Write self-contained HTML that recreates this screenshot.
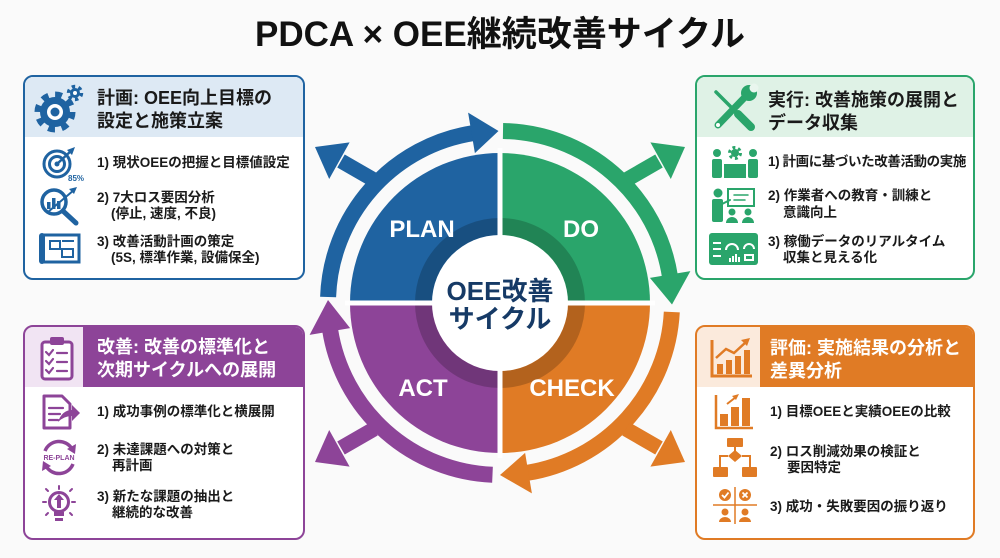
<!DOCTYPE html>
<html><head><meta charset="utf-8">
<style>
*{margin:0;padding:0}
body{width:1000px;height:558px;background:#fafafa;position:relative;overflow:hidden;font-family:"Liberation Sans","Noto Sans CJK JP",sans-serif;}
.box{position:absolute;box-sizing:border-box;border:2.5px solid;border-radius:10px;background:#fff;overflow:hidden}
.hd{position:absolute;left:0;right:0;top:0;height:60px}
.t{position:absolute;font-weight:bold;white-space:nowrap;color:#1a1a1a}
.h{font-size:18px;line-height:23px}
.i{font-size:13.5px;line-height:16px}
.ind{display:block;padding-left:14px}
</style></head><body>

<div class="t" style="left:0;width:1000px;top:15px;text-align:center;font-size:35px;line-height:40px;color:#111">PDCA × OEE継続改善サイクル</div>

<!-- boxes -->
<div class="box" style="left:23px;top:75px;width:282px;height:205px;border-color:#1f63a1">
  <div class="hd" style="background:#dde9f4"></div>
</div>
<div class="box" style="left:695px;top:75px;width:280px;height:205px;border-color:#2aa56b">
  <div class="hd" style="background:#dff2e6"></div>
</div>
<div class="box" style="left:23px;top:325px;width:282px;height:215px;border-color:#8d4498">
  <div class="hd" style="background:#8d4498;height:60px"></div>
  <div class="hd" style="background:#f1e4f3;right:auto;width:58px;height:60px"></div>
</div>
<div class="box" style="left:695px;top:325px;width:280px;height:215px;border-color:#e07b25">
  <div class="hd" style="background:#e07b25;height:60px"></div>
  <div class="hd" style="background:#fbeadc;right:auto;width:63px;height:60px"></div>
</div>

<!-- header texts -->
<div class="t h" style="left:97px;top:87px">計画: OEE向上目標の<br>設定と施策立案</div>
<div class="t h" style="left:768px;top:89px">実行: 改善施策の展開と<br>データ収集</div>
<div class="t h" style="left:97px;top:336px;color:#fff">改善: 改善の標準化と<br>次期サイクルへの展開</div>
<div class="t h" style="left:770px;top:337px;color:#fff">評価: 実施結果の分析と<br>差異分析</div>

<!-- items -->
<div class="t i" style="left:97px;top:155px">1) 現状OEEの把握と目標値設定</div>
<div class="t i" style="left:97px;top:190px">2) 7大ロス要因分析<span class="ind">(停止, 速度, 不良)</span></div>
<div class="t i" style="left:97px;top:234px">3) 改善活動計画の策定<span class="ind">(5S, 標準作業, 設備保全)</span></div>

<div class="t i" style="left:768px;top:154px;letter-spacing:-0.4px">1) 計画に基づいた改善活動の実施</div>
<div class="t i" style="left:768px;top:187px;line-height:17px">2) 作業者への教育・訓練と<span class="ind" style="padding-left:15px">意識向上</span></div>
<div class="t i" style="left:768px;top:234px">3) 稼働データのリアルタイム<span class="ind" style="padding-left:15px">収集と見える化</span></div>

<div class="t i" style="left:97px;top:404px">1) 成功事例の標準化と横展開</div>
<div class="t i" style="left:97px;top:442px">2) 未達課題への対策と<span class="ind" style="padding-left:15px">再計画</span></div>
<div class="t i" style="left:97px;top:489px">3) 新たな課題の抽出と<span class="ind" style="padding-left:15px">継続的な改善</span></div>

<div class="t i" style="left:770px;top:404px">1) 目標OEEと実績OEEの比較</div>
<div class="t i" style="left:770px;top:444px">2) ロス削減効果の検証と<span class="ind" style="padding-left:17px">要因特定</span></div>
<div class="t i" style="left:770px;top:499px">3) 成功・失敗要因の振り返り</div>

<svg width="1000" height="558" style="position:absolute;left:0;top:0" xmlns="http://www.w3.org/2000/svg">
<!-- pie -->
<path d="M500,303 L350,303 A150,150 0 0 1 500,153 Z" fill="#1f63a1"/>
<path d="M500,303 L500,153 A150,150 0 0 1 650,303 Z" fill="#2aa56b"/>
<path d="M500,303 L650,303 A150,150 0 0 1 500,453 Z" fill="#e07b25"/>
<path d="M500,303 L500,453 A150,150 0 0 1 350,303 Z" fill="#8d4498"/>
<circle cx="500" cy="303" r="76.5" fill="none" stroke="rgba(0,0,0,0.2)" stroke-width="17"/>
<line x1="500" y1="148" x2="500" y2="458" stroke="#fff" stroke-width="5"/>
<line x1="345" y1="303" x2="655" y2="303" stroke="#fff" stroke-width="5"/>
<circle cx="500" cy="303" r="68" fill="#fff"/>

<!-- ring arrows -->
<g fill="none" stroke-width="16">
<path d="M328.1,297 A172,172 0 0 1 473.1,133.1" stroke="#1f63a1"/>
<path d="M503,131 A172,172 0 0 1 669.9,276.1" stroke="#2aa56b"/>
<path d="M671.8,312 A172,172 0 0 1 526.9,472.9" stroke="#e07b25"/>
<path d="M492.5,474.8 A172,172 0 0 1 330.1,329.9" stroke="#8d4498"/>
</g>
<polygon points="474.9,153.1 468.1,112.6 498.5,131" fill="#1f63a1"/>
<polygon points="649.9,277.9 690.4,271.1 672,304.5" fill="#2aa56b"/>
<polygon points="525.1,452.9 531.9,493.4 500,475" fill="#e07b25"/>
<polygon points="350.1,328.1 309.6,334.9 328,300" fill="#8d4498"/>

<!-- diagonal arrows -->
<line x1="374" y1="180" x2="341" y2="161" stroke="#1f63a1" stroke-width="15"/>
<polygon points="315,147 349.6,142.4 329.2,179" fill="#1f63a1"/>
<line x1="626" y1="180" x2="659" y2="161" stroke="#2aa56b" stroke-width="15"/>
<polygon points="685,147 650.4,142.4 670.8,179" fill="#2aa56b"/>
<line x1="374" y1="429" x2="341" y2="448" stroke="#8d4498" stroke-width="15"/>
<polygon points="315,462 349.6,466.6 329.2,430" fill="#8d4498"/>
<line x1="626" y1="429" x2="659" y2="448" stroke="#e07b25" stroke-width="15"/>
<polygon points="685,462 650.4,466.6 670.8,430" fill="#e07b25"/>

<!-- labels -->
<g font-family="Liberation Sans, sans-serif" font-weight="bold" font-size="24" fill="#fff" text-anchor="middle">
<text x="422" y="237">PLAN</text>
<text x="581" y="237">DO</text>
<text x="423" y="396">ACT</text>
<text x="572" y="396">CHECK</text>
</g>
<g font-family="Liberation Sans, Noto Sans CJK JP, sans-serif" font-weight="bold" font-size="26" fill="#163a66" text-anchor="middle">
<text x="500" y="300">OEE改善</text>
<text x="500" y="328">サイクル</text>
</g>

<!-- TL icons (blue) -->
<g fill="#1f63a1" stroke="#1f63a1">
<circle cx="55" cy="112" r="15" stroke="none"/>
<circle cx="55" cy="112" r="17" fill="none" stroke-width="7" stroke-dasharray="6.7 6.65"/>
<circle cx="55" cy="112" r="8" fill="#fff" stroke="none"/>
<circle cx="55" cy="112" r="4.5" stroke="none"/>
<circle cx="75" cy="93" r="5" stroke="none"/>
<circle cx="75" cy="93" r="6.5" fill="none" stroke-width="3.5" stroke-dasharray="3.4 3.4"/>
<circle cx="75" cy="93" r="2" fill="#fff" stroke="none"/>
<!-- target -->
<circle cx="57" cy="164" r="13" fill="none" stroke-width="3"/>
<circle cx="57" cy="164" r="7.5" fill="none" stroke-width="3"/>
<circle cx="57" cy="164" r="2.5" stroke="none"/>
<line x1="57" y1="164" x2="72" y2="150" stroke-width="2.5"/>
<polygon points="75,147 67,150 72,155" stroke="none"/>
<text x="68" y="181" font-size="8" font-weight="bold" stroke="none" font-family="Liberation Sans, sans-serif">85%</text>
<!-- magnifier -->
<circle cx="54" cy="202" r="12" fill="none" stroke-width="3.5"/>
<rect x="47" y="202" width="3.5" height="7" stroke="none"/>
<rect x="52" y="198" width="3.5" height="11" stroke="none"/>
<rect x="57" y="201" width="3.5" height="8" stroke="none"/>
<line x1="63" y1="211" x2="76" y2="223" stroke-width="5" stroke-linecap="round"/>
<line x1="48" y1="212" x2="74" y2="190" stroke-width="2"/>
<polygon points="77,187 69,189 74,194" stroke="none"/>
<!-- blueprint -->
<rect x="42" y="235" width="37" height="27" fill="none" stroke-width="3"/>
<rect x="39" y="233" width="6" height="31" rx="3" stroke="none"/>
<rect x="50" y="241" width="10" height="8" fill="none" stroke-width="2"/>
<rect x="62" y="249" width="11" height="8" fill="none" stroke-width="2"/>
<line x1="62" y1="241" x2="74" y2="241" stroke-width="2"/>
</g>

<!-- TR icons (green) -->
<g fill="#2aa56b" stroke="#2aa56b" stroke-linecap="round">
<line x1="716" y1="92" x2="736" y2="112" stroke-width="3.5"/>
<line x1="738" y1="114" x2="751" y2="127" stroke-width="8"/>
<line x1="746" y1="96" x2="718" y2="125" stroke-width="7"/>
<circle cx="749" cy="93" r="8" stroke="none"/>
<circle cx="754" cy="88" r="4.5" fill="#e9f6ee" stroke="none"/>
<circle cx="718" cy="125" r="2" fill="#fff" stroke="none"/>
<!-- people table -->
<circle cx="717" cy="153" r="4" stroke="none"/>
<rect x="712" y="159" width="10" height="19" rx="2" stroke="none"/>
<circle cx="753" cy="153" r="4" stroke="none"/>
<rect x="748" y="159" width="10" height="19" rx="2" stroke="none"/>
<rect x="724" y="164" width="22" height="14" stroke="none"/>
<circle cx="735" cy="153" r="4" stroke="none"/>
<circle cx="735" cy="153" r="5.5" fill="none" stroke-width="3" stroke-dasharray="2.9 2.9" stroke-linecap="butt"/>
<!-- presenter -->
<circle cx="718" cy="193" r="4.5" stroke="none"/>
<rect x="712" y="199" width="11" height="23" rx="2" stroke="none"/>
<rect x="728" y="189" width="26" height="17" fill="#fff" stroke-width="2" stroke-linecap="butt"/>
<line x1="734" y1="195" x2="748" y2="195" stroke-width="1.5"/>
<line x1="734" y1="200" x2="745" y2="200" stroke-width="1.5"/>
<line x1="722" y1="204" x2="730" y2="200" stroke-width="2"/>
<circle cx="732" cy="212" r="3.5" stroke="none"/>
<path d="M726,223 a6,6 0 0 1 12,0 Z" stroke="none"/>
<circle cx="748" cy="212" r="3.5" stroke="none"/>
<path d="M742,223 a6,6 0 0 1 12,0 Z" stroke="none"/>
<!-- dashboard -->
<rect x="709" y="233" width="49" height="32" rx="3" stroke="none"/>
<g stroke="#fff" fill="none" stroke-width="2" stroke-linecap="butt">
<path d="M726,250 a6,6 0 0 1 12,0"/>
<path d="M744,249 a5,5 0 0 1 10,0"/>
<line x1="713" y1="243" x2="721" y2="243"/>
<line x1="713" y1="249" x2="721" y2="249"/>
<line x1="713" y1="256" x2="721" y2="256"/>
<line x1="730" y1="262" x2="730" y2="258"/>
<line x1="733" y1="262" x2="733" y2="256"/>
<line x1="736" y1="262" x2="736" y2="254"/>
<line x1="739" y1="262" x2="739" y2="257"/>
<rect x="745" y="255" width="8" height="5"/>
</g>
</g>

<!-- BL icons (purple) -->
<g fill="#8d4498" stroke="#8d4498" stroke-linecap="round">
<rect x="42" y="342" width="30" height="37" rx="3" fill="#fff" stroke-width="3"/>
<rect x="50" y="337" width="14" height="8" rx="2" stroke="none"/>
<g fill="none" stroke-width="2.2">
<polyline points="46,352 49,355 53,350"/><line x1="57" y1="353" x2="67" y2="353"/>
<polyline points="46,361 49,364 53,359"/><line x1="57" y1="362" x2="67" y2="362"/>
<polyline points="46,370 49,373 53,368"/><line x1="57" y1="371" x2="67" y2="371"/>
</g>
<!-- doc -->
<path d="M44,396 L62,396 L70,404 L70,428 L44,428 Z" fill="#fff" stroke-width="3" stroke-linejoin="round"/>
<g stroke-width="2.2"><line x1="49" y1="408" x2="63" y2="408"/><line x1="49" y1="414" x2="60" y2="414"/><line x1="49" y1="420" x2="58" y2="420"/></g>
<path d="M58,422 Q62,410 72,410 L72,405 L80,413 L72,421 L72,416 Q64,416 58,422 Z" stroke="none"/>
<!-- replan -->
<path d="M45,451 A15,15 0 0 1 72,449" fill="none" stroke-width="3.5" stroke-linecap="butt"/>
<polygon points="76,444 75,454 67,449" stroke="none"/>
<path d="M73,464 A15,15 0 0 1 46,466" fill="none" stroke-width="3.5" stroke-linecap="butt"/>
<polygon points="42,471 43,461 51,466" stroke="none"/>
<text x="59" y="460" font-size="7" font-weight="bold" text-anchor="middle" stroke="none" font-family="Liberation Sans, sans-serif">RE-PLAN</text>
<!-- bulb -->
<circle cx="59" cy="502" r="9.5" fill="none" stroke-width="3"/>
<rect x="54" y="512" width="10" height="4" stroke="none"/>
<rect x="55" y="518" width="8" height="3" stroke="none"/>
<polygon points="59,494 64,500 61,500 61,508 57,508 57,500 54,500" stroke="none"/>
<g stroke-width="2"><line x1="59" y1="486" x2="59" y2="489"/><line x1="46" y1="502" x2="43" y2="502"/><line x1="72" y1="502" x2="75" y2="502"/><line x1="48" y1="491" x2="46" y2="489"/><line x1="70" y1="491" x2="72" y2="489"/><line x1="48" y1="513" x2="46" y2="515"/><line x1="70" y1="513" x2="72" y2="515"/></g>
</g>

<!-- BR icons (orange) -->
<g fill="#e07b25" stroke="#e07b25">
<polyline points="712,340 712,376 752,376" fill="none" stroke-width="3"/>
<rect x="717" y="364" width="6" height="10" stroke="none"/>
<rect x="726" y="360" width="6" height="14" stroke="none"/>
<rect x="735" y="356" width="6" height="18" stroke="none"/>
<rect x="744" y="350" width="6" height="24" stroke="none"/>
<polyline points="716,358 726,349 734,353 746,342" fill="none" stroke-width="2.5"/>
<polygon points="750,338 741,340 747,346" stroke="none"/>
<!-- item1 chart -->
<polyline points="716,395 716,428 753,428" fill="none" stroke-width="2.5"/>
<rect x="720" y="414" width="8" height="12" stroke="none"/>
<rect x="731" y="407" width="8" height="19" stroke="none"/>
<rect x="742" y="398" width="8" height="28" stroke="none"/>
<line x1="727" y1="404" x2="736" y2="397" stroke-width="2"/>
<polygon points="739,394 732,396 736,400" stroke="none"/>
<!-- flowchart -->
<rect x="727" y="438" width="16" height="9" rx="1" stroke="none"/>
<line x1="735" y1="447" x2="735" y2="451" stroke-width="2"/>
<polygon points="735,450 742,456 735,462 728,456" stroke="none"/>
<polyline points="728,456 720,456 720,467" fill="none" stroke-width="2"/>
<polyline points="742,456 750,456 750,467" fill="none" stroke-width="2"/>
<rect x="713" y="467" width="15" height="10" rx="1" stroke="none"/>
<rect x="742" y="467" width="15" height="10" rx="1" stroke="none"/>
<!-- matrix -->
<line x1="735" y1="487" x2="735" y2="524" stroke-width="1.5"/>
<line x1="713" y1="505" x2="757" y2="505" stroke-width="1.5"/>
<circle cx="725" cy="495" r="6" stroke="none"/>
<polyline points="722,495 724.5,497.5 728.5,492.5" fill="none" stroke="#fff" stroke-width="1.8"/>
<circle cx="745" cy="495" r="6" stroke="none"/>
<g stroke="#fff" stroke-width="1.8"><line x1="742.5" y1="492.5" x2="747.5" y2="497.5"/><line x1="747.5" y1="492.5" x2="742.5" y2="497.5"/></g>
<circle cx="725" cy="512" r="3.5" stroke="none"/>
<path d="M719,522 a6,5 0 0 1 12,0 Z" stroke="none"/>
<circle cx="745" cy="512" r="3.5" stroke="none"/>
<path d="M739,522 a6,5 0 0 1 12,0 Z" stroke="none"/>
</g>
</svg>
</body></html>
